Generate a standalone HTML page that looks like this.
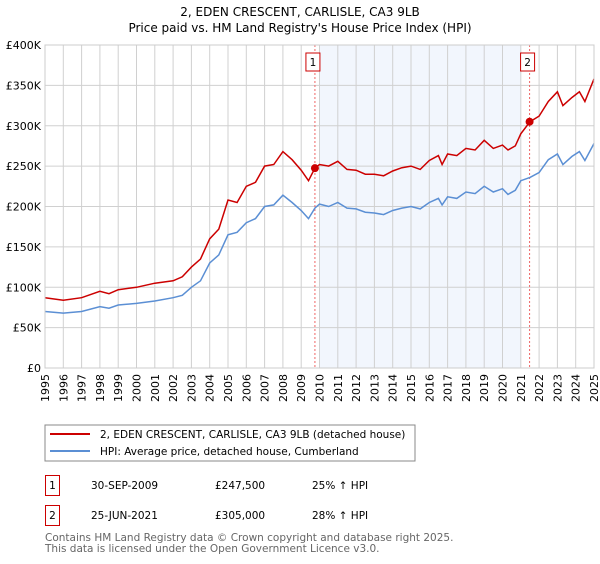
<!DOCTYPE html>
<html><head><meta charset="utf-8"><style>
body{margin:0;background:#fff;width:600px;height:560px;overflow:hidden;font-family:"DejaVu Sans","Liberation Sans",sans-serif;}
svg text{font-family:"DejaVu Sans","Liberation Sans",sans-serif;}
</style></head><body>
<svg id="chart" width="600" height="560">
<text x="300" y="16" text-anchor="middle" font-size="12">2, EDEN CRESCENT, CARLISLE, CA3 9LB</text>
<text x="300" y="32" text-anchor="middle" font-size="12">Price paid vs. HM Land Registry's House Price Index (HPI)</text>
<g id="plot"></g>
<g>
<rect x="45" y="425" width="370" height="36" fill="#fff" stroke="#888"/>
<line x1="50" y1="434" x2="90" y2="434" stroke="#cc0000" stroke-width="2"/>
<text x="100" y="438" font-size="10.5">2, EDEN CRESCENT, CARLISLE, CA3 9LB (detached house)</text>
<line x1="50" y1="451" x2="90" y2="451" stroke="#5b8fd4" stroke-width="2"/>
<text x="100" y="455" font-size="10.5">HPI: Average price, detached house, Cumberland</text>
</g>
<g>
<rect x="45.5" y="475.5" width="14" height="20" fill="#fff" stroke="#cc0000"/>
<text x="52.5" y="489" font-size="10.5" text-anchor="middle">1</text>
<text x="91" y="489" font-size="10.5">30-SEP-2009</text>
<text x="215" y="489" font-size="10.5">£247,500</text>
<text x="312" y="489" font-size="10.5">25% ↑ HPI</text>
</g>
<g>
<rect x="45.5" y="505.5" width="14" height="20" fill="#fff" stroke="#cc0000"/>
<text x="52.5" y="519" font-size="10.5" text-anchor="middle">2</text>
<text x="91" y="519" font-size="10.5">25-JUN-2021</text>
<text x="215" y="519" font-size="10.5">£305,000</text>
<text x="312" y="519" font-size="10.5">28% ↑ HPI</text>
</g>
<text x="45" y="541" font-size="10.5" fill="#666">Contains HM Land Registry data © Crown copyright and database right 2025.</text>
<text x="45" y="552" font-size="10.5" fill="#666">This data is licensed under the Open Government Licence v3.0.</text>
</svg>
<script>
const hpiYears=[1995,1996,1997,1998,1998.5,1999,2000,2001,2002,2002.5,2003,2003.5,2004,2004.5,2005,2005.5,2006,2006.5,2007,2007.5,2008,2008.5,2009,2009.4,2009.75,2010,2010.5,2011,2011.5,2012,2012.5,2013,2013.5,2014,2014.5,2015,2015.5,2016,2016.5,2016.7,2017,2017.5,2018,2018.5,2019,2019.5,2020,2020.3,2020.7,2021,2021.5,2022,2022.5,2023,2023.3,2023.8,2024.2,2024.5,2025];
const hpiValues=[70,68,70,76,74,78,80,83,87,90,100,108,130,140,165,168,180,185,200,202,214,205,195,185,198,203,200,205,198,197,193,192,190,195,198,200,197,205,210,202,212,210,218,216,225,218,222,215,220,232,236,242,258,265,252,262,268,257,278];
const priceValues=[87,84,87,95,92,97,100,105,108,113,125,135,160,172,208,205,225,230,250,252,268,258,245,232,247.5,252,250,256,246,245,240,240,238,244,248,250,246,257,263,252,265,263,272,270,282,272,276,270,275,290,305,312,330,342,325,335,342,330,358];
const saleYears=[2009.75,2021.48];
const saleValues=[247.5,305];
const saleLabels=["1","2"];
const yTicks=[0,50,100,150,200,250,300,350,400];
const yTickLabels=["£0","£50K","£100K","£150K","£200K","£250K","£300K","£350K","£400K"];
const xTicks=[];for(let y=1995;y<=2025;y++)xTicks.push(y);
const shadeRange=[2010,2021];

const X0=45,X1=594,Y0=368,Y1=45;
const xs=y=>X0+(y-1995)/30*(X1-X0);
const ys=v=>Y0-v/400*(Y0-Y1);
const NS="http://www.w3.org/2000/svg";
const g=document.getElementById('plot');
function mk(t,a){const e=document.createElementNS(NS,t);for(const k in a)e.setAttribute(k,a[k]);g.appendChild(e);return e;}

let sh=mk('rect',{x:xs(shadeRange[0]),y:Y1,width:xs(shadeRange[1])-xs(shadeRange[0]),height:Y0-Y1,fill:'#eef3fc',opacity:0.75});


xTicks.forEach(y=>{
 const l=mk('line',{x1:xs(y),x2:xs(y),y1:Y1,y2:Y0,stroke:'#d0d0d0'});
 
 
 const t=mk('text',{x:0,y:0,'font-size':11,'text-anchor':'end',transform:`translate(${xs(y)+4},${Y0+6}) rotate(-90)`});
 t.textContent=y;
 
 
});
yTicks.forEach((v,i)=>{
 const l=mk('line',{x1:X0,x2:X1,y1:ys(v),y2:ys(v),stroke:'#d0d0d0'});
 
 
 const t=mk('text',{x:X0-4,y:ys(v)+4,'font-size':11,'text-anchor':'end'});
 t.textContent=yTickLabels[i];
 
 
});
saleYears.forEach((y,i)=>{
 const l=mk('line',{x1:xs(y),x2:xs(y),y1:Y1,y2:Y0,stroke:'#e66','stroke-dasharray':'2,2'});
 
 
});
const path=(vals)=>hpiYears.map((y,i)=>(i?'L':'M')+xs(y).toFixed(1)+','+ys(vals[i]).toFixed(1)).join('');
const hp=mk('path',{d:path(hpiValues),fill:'none',stroke:'#5b8fd4','stroke-width':1.5});


const pp=mk('path',{d:path(priceValues),fill:'none',stroke:'#cc0000','stroke-width':1.5});


saleYears.forEach((y,i)=>{
 const c=mk('circle',{cx:xs(y),cy:ys(saleValues[i]),r:4,fill:'#cc0000'});
 
 
 const b=mk('rect',{x:xs(y)-9,y:53,width:14,height:18,fill:'#fff',stroke:'#cc0000'});
 
 
 const t=mk('text',{x:xs(y)-2,y:66,'font-size':10.5,'text-anchor':'middle'});
 t.textContent=saleLabels[i];
 
 
});
const ax=mk('rect',{x:X0,y:Y1,width:X1-X0,height:Y0-Y1,fill:'none',stroke:'#ccc'});


</script>
</body></html>
